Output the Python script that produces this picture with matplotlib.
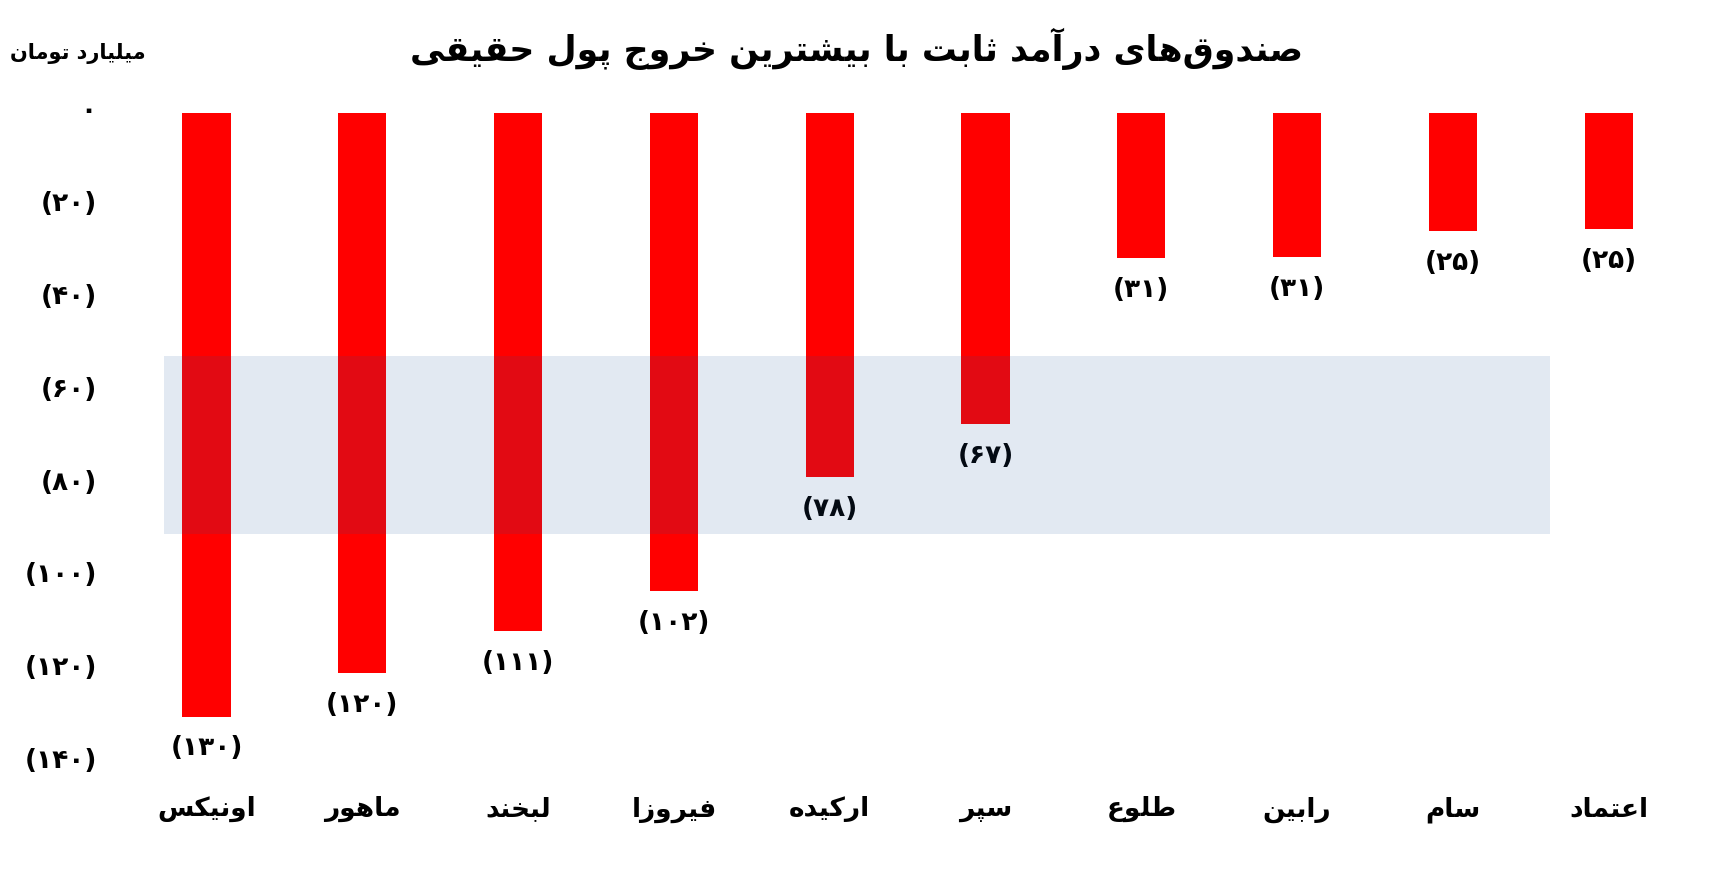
import matplotlib
matplotlib.use('agg')
import matplotlib.pyplot as plt
import matplotlib.patches as patches
from matplotlib.transforms import ScaledTranslation

funds = ['اونیکس', 'ماهور', 'لبخند', 'فیروزا', 'ارکیده',
         'سپر', 'طلوع', 'رابین', 'سام', 'اعتماد']
outflow = [130, 120.7, 111.5, 102.9, 78.4, 67, 31.2, 31.1, 25.4, 25.0]
yticks = [0, 20, 40, 60, 80, 100, 120, 140]
title = 'صندوق‌های درآمد ثابت با بیشترین خروج پول حقیقی'
unit = 'میلیارد تومان'

# minimal arabic/persian shaping (no arabic_reshaper available)
# (isolated, final, initial, medial)
FORMS = {
    'ا': ('\uFE8D', '\uFE8E'), 'آ': ('\uFE81', '\uFE82'),
    'ب': ('\uFE8F', '\uFE90', '\uFE91', '\uFE92'),
    'ت': ('\uFE95', '\uFE96', '\uFE97', '\uFE98'),
    'ث': ('\uFE99', '\uFE9A', '\uFE9B', '\uFE9C'),
    'ج': ('\uFE9D', '\uFE9E', '\uFE9F', '\uFEA0'),
    'ح': ('\uFEA1', '\uFEA2', '\uFEA3', '\uFEA4'),
    'خ': ('\uFEA5', '\uFEA6', '\uFEA7', '\uFEA8'),
    'د': ('\uFEA9', '\uFEAA'), 'ذ': ('\uFEAB', '\uFEAC'),
    'ر': ('\uFEAD', '\uFEAE'), 'ز': ('\uFEAF', '\uFEB0'),
    'ژ': ('\uFB8A', '\uFB8B'),
    'س': ('\uFEB1', '\uFEB2', '\uFEB3', '\uFEB4'),
    'ش': ('\uFEB5', '\uFEB6', '\uFEB7', '\uFEB8'),
    'ص': ('\uFEB9', '\uFEBA', '\uFEBB', '\uFEBC'),
    'ض': ('\uFEBD', '\uFEBE', '\uFEBF', '\uFEC0'),
    'ط': ('\uFEC1', '\uFEC2', '\uFEC3', '\uFEC4'),
    'ظ': ('\uFEC5', '\uFEC6', '\uFEC7', '\uFEC8'),
    'ع': ('\uFEC9', '\uFECA', '\uFECB', '\uFECC'),
    'غ': ('\uFECD', '\uFECE', '\uFECF', '\uFED0'),
    'ف': ('\uFED1', '\uFED2', '\uFED3', '\uFED4'),
    'ق': ('\uFED5', '\uFED6', '\uFED7', '\uFED8'),
    'ک': ('\uFB8E', '\uFB8F', '\uFB90', '\uFB91'),
    'گ': ('\uFB92', '\uFB93', '\uFB94', '\uFB95'),
    'ل': ('\uFEDD', '\uFEDE', '\uFEDF', '\uFEE0'),
    'م': ('\uFEE1', '\uFEE2', '\uFEE3', '\uFEE4'),
    'ن': ('\uFEE5', '\uFEE6', '\uFEE7', '\uFEE8'),
    'ه': ('\uFEE9', '\uFEEA', '\uFEEB', '\uFEEC'),
    'و': ('\uFEED', '\uFEEE'),
    'ی': ('\uFBFC', '\uFBFD', '\uFBFE', '\uFBFF'),
    'پ': ('\uFB56', '\uFB57', '\uFB58', '\uFB59'),
    'چ': ('\uFB7A', '\uFB7B', '\uFB7C', '\uFB7D'),
}


def shape(s):
    out = []
    for i, c in enumerate(s):
        if c not in FORMS:
            if c != '\u200c':
                out.append(c)
            continue
        prev = s[i - 1] if i > 0 else ''
        nxt = s[i + 1] if i + 1 < len(s) else ''
        jp = prev in FORMS and len(FORMS[prev]) == 4
        jn = len(FORMS[c]) == 4 and nxt in FORMS
        f = FORMS[c]
        if jp and jn:
            out.append(f[3])
        elif jp:
            out.append(f[1])
        elif jn:
            out.append(f[2])
        else:
            out.append(f[0])
    return ''.join(out[::-1])


def fa_num(n):
    return str(n).translate(str.maketrans('0123456789', '۰۱۲۳۴۵۶۷۸۹'))


plt.rcParams['font.family'] = ['DejaVu Sans']
plt.rcParams['font.weight'] = 'bold'

fig = plt.figure(figsize=(17.13, 8.91), dpi=100)
ax = fig.add_axes([0.0751, 0.1437, 0.9095, 0.7295])

x = list(range(len(funds)))
ax.bar(x, [-v for v in outflow], width=0.31, color='#ff0000', zorder=2)
for xi, v in zip(x, outflow):
    ax.annotate('(' + fa_num(int(v)) + ')', (xi, -v), xytext=(0, -23),
                textcoords='offset points', ha='center', va='center',
                fontsize=19, fontweight='bold', annotation_clip=False)

ax.set_xlim(-0.5, len(funds) - 0.5)
ax.set_ylim(-140, 0)
ax.set_yticks([-t for t in yticks])
ax.set_yticklabels([fa_num(t) if t == 0 else '(' + fa_num(t) + ')' for t in yticks],
                   fontsize=19, fontweight='bold')
ax.set_xticks(x)
ax.set_xticklabels([shape(f) for f in funds], fontsize=19, fontweight='bold')
ax.tick_params(axis='y', length=0, pad=23)
ax.tick_params(axis='x', length=0, pad=24)
shift = ScaledTranslation(0, 3.5 / 72, fig.dpi_scale_trans)
for lab in ax.get_yticklabels():
    lab.set_transform(lab.get_transform() + shift)
for s in ax.spines.values():
    s.set_visible(False)

# watermark band
band = patches.Rectangle((164 / 1713, 357 / 891), 1386 / 1713, 178 / 891,
                         transform=fig.transFigure, facecolor=(31/255, 80/255, 152/255),
                         alpha=0.125, edgecolor='none', zorder=5)
fig.patches.append(band)

fig.text(0.5, 1 - 49 / 891, shape(title), ha='center', va='center',
         fontsize=25, fontweight='bold')
fig.text(78 / 1713, 1 - 53 / 891, shape(unit), ha='center', va='center',
         fontsize=15, fontweight='bold')

fig.savefig('out.png', dpi=100)
